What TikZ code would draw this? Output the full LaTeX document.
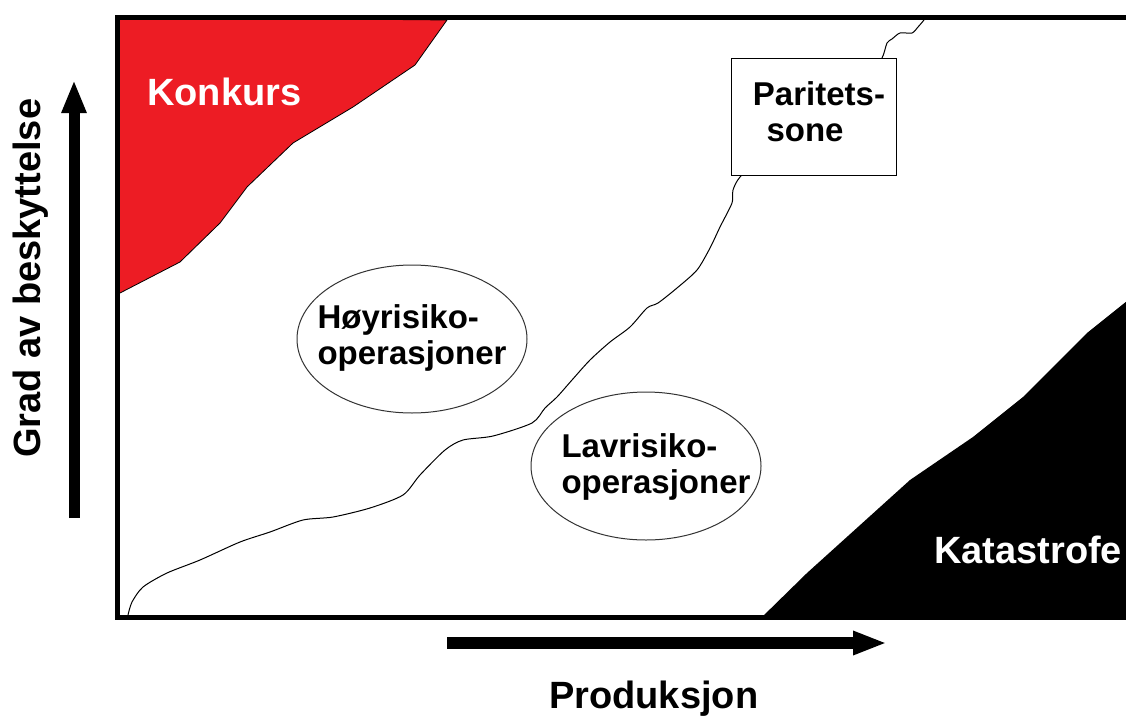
\documentclass[tikz,border=0pt]{standalone}
\usepackage{fontspec}
\setmainfont{Liberation Sans}
\usetikzlibrary{arrows.meta,shapes.geometric}
\definecolor{konred}{RGB}{237,28,36}
\begin{document}
\begin{tikzpicture}[x=1pt,y=-1pt,
  big/.style={font=\fontsize{38}{40}\selectfont\bfseries, inner sep=0pt},
  small/.style={font=\fontsize{33}{36}\selectfont\bfseries, inner sep=0pt, align=left},
  oval/.style={ellipse, draw=black!80, line width=1pt, minimum width=230pt, minimum height=148pt, inner sep=0pt},
  frame/.style={line width=5pt, line join=miter},
  thin/.style={line width=1pt, line join=round},
  axis/.style={line width=11pt}]
\useasboundingbox (0,0) rectangle (1126,715);
\clip (0,0) rectangle (1126,715);
\fill[white] (0,0) rectangle (1126,715);
% Konkurs region
\filldraw[fill=konred, draw=black, line width=0.8pt, line join=round]
  (117,17) -- (447,20) -- (415,65) -- (353,107) -- (293,143) -- (247,187)
  -- (220,223) -- (180,262) -- (120,293) -- (117,295) -- cycle;
% Katastrofe region
\fill[black] (760,619) -- (807,573) -- (910,480) -- (973,437) -- (1023,397)
  -- (1087,333) -- (1107,317) -- (1132,297) -- (1132,620) -- cycle;
% parity curve
\draw[thin] plot[smooth, tension=0.45] coordinates {
  (128,615) (132,602) (143,587) (167,573) (200,560) (240,542) (270,532)
  (303,520) (333,517) (370,508) (403,495) (420,475) (445,450) (463,440)
  (493,436) (532,423) (545,408) (557,397) (572,380) (590,360) (610,342)
  (630,327) (647,308) (658,303) (677,288) (697,270) (710,248) (720,227)
  (732,203) (733,190) (740,177) (760,160) (870,70) (882,58) (887,43)
  (892,39) (900,33) (912,33) (918,27) (924,20)};
% Paritetssone box
\node[draw, fill=white, line width=1pt, minimum width=165pt, minimum height=117pt, inner sep=0pt] (par) at (813.5,116.5) {};
\node[small, align=center] (partxt) at (819,112) {Paritets-\\sone\hspace*{28pt}};
% ellipses
\node[oval] (hoy) at (412,339) {};
\node[small] (hoytxt) at (412,338) {Høyrisiko-\\operasjoner};
\node[oval] (lav) at (646,466) {};
\node[small] (lavtxt) at (656,467) {Lavrisiko-\\operasjoner};
% frame
\draw[frame] (1140,17.5) -- (117,17.5) -- (117,617) -- (1140,617);
% axes
\coordinate (ybot) at (74,518);
\coordinate (ytop) at (74,80);
\draw[axis, -{Triangle[length=33pt,width=23pt]}] (ybot) -- (ytop);
\coordinate (xl) at (447,643);
\coordinate (xr) at (887,643);
\draw[axis, line width=12pt, -{Triangle[length=34pt,width=22pt]}] (xl) -- (xr);
% labels
\node[big, white, anchor=base west] (konk) at (147,105) {Konkurs};
\node[big, white, anchor=base west] (kat) at (934,563) {Katastrofe};
\node[big, anchor=base west] (prod) at (549,708) {Produksjon};
\node[big, anchor=base west, rotate=90] (grad) at (40,458) {Grad av beskyttelse};
\end{tikzpicture}
\end{document}
